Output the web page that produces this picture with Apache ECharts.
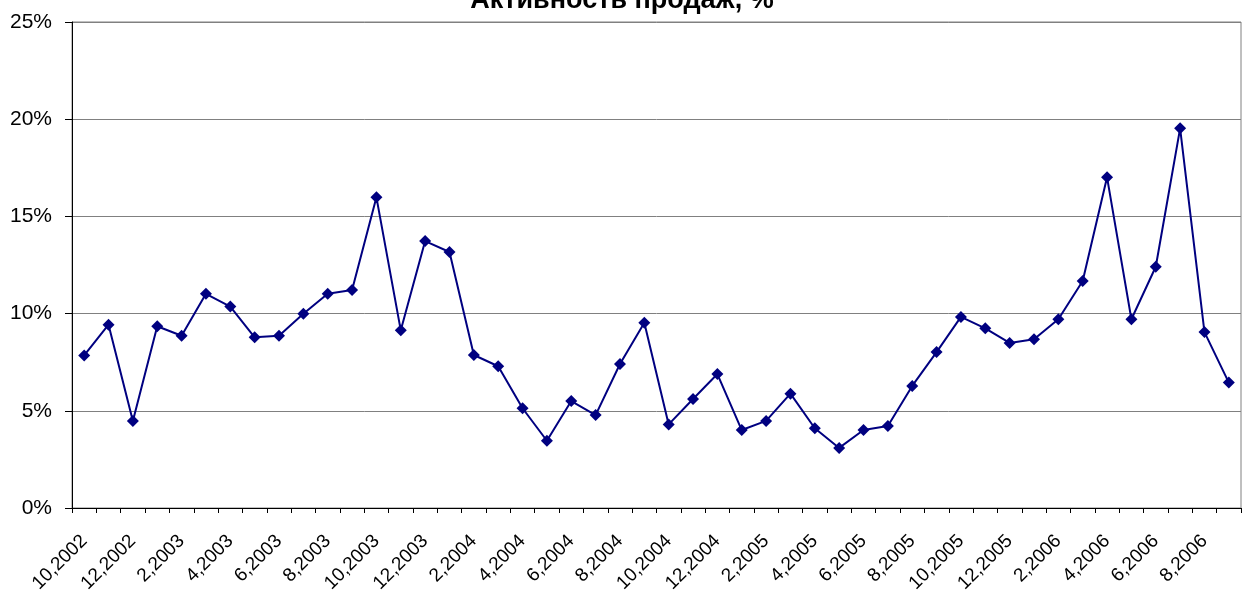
<!DOCTYPE html>
<html>
<head>
<meta charset="utf-8">
<script src="https://cdn.jsdelivr.net/npm/echarts@6/dist/echarts.min.js"></script>
<style>
html,body{margin:0;padding:0;background:#fff;}
#chart{width:1244px;height:590px;}
</style>
</head>
<body>
<div id="chart"></div>
<script>
const titleText = 'Активность продаж, %';
const categories = [
  '10,2002','11,2002','12,2002',
  '1,2003','2,2003','3,2003','4,2003','5,2003','6,2003','7,2003','8,2003','9,2003','10,2003','11,2003','12,2003',
  '1,2004','2,2004','3,2004','4,2004','5,2004','6,2004','7,2004','8,2004','9,2004','10,2004','11,2004','12,2004',
  '1,2005','2,2005','3,2005','4,2005','5,2005','6,2005','7,2005','8,2005','9,2005','10,2005','11,2005','12,2005',
  '1,2006','2,2006','3,2006','4,2006','5,2006','6,2006','7,2006','8,2006','9,2006'
];
const salesActivity = [
  7.85, 9.43, 4.48,
  9.35, 8.86, 11.02, 10.36, 8.78, 8.86, 9.99, 11.02, 11.21, 15.98, 9.14, 13.73,
  13.17, 7.87, 7.29, 5.13, 3.46, 5.50, 4.78, 7.41, 9.53, 4.30, 5.61, 6.89,
  4.01, 4.48, 5.88, 4.10, 3.09, 4.01, 4.22, 6.28, 8.02, 9.83, 9.24, 8.49,
  8.68, 9.71, 11.68, 17.01, 9.71, 12.41, 19.53, 9.05, 6.45
];
const yTicks = { min: 0, max: 25, interval: 5 };

const chart = echarts.init(document.getElementById('chart'), null, { renderer: 'canvas' });
const font = 'Arial, "Liberation Sans", sans-serif';
chart.setOption({
  animation: false,
  backgroundColor: '#ffffff',
  title: {
    text: titleText,
    left: 'center',
    top: -13,
    padding: 0,
    textStyle: { fontFamily: font, fontSize: 27, fontWeight: 'bold', color: '#000' }
  },
  grid: {
    left: 72, right: 3, top: 22, bottom: 82,
    containLabel: false,
    outerBoundsMode: 'none',
    show: true,
    borderColor: '#808080',
    borderWidth: 1,
    backgroundColor: 'transparent'
  },
  xAxis: {
    type: 'category',
    data: categories,
    boundaryGap: true,
    axisLine: { show: true, lineStyle: { color: '#000', width: 1 } },
    axisTick: { show: true, interval: 0, length: 5, inside: false, lineStyle: { color: '#000' } },
    axisLabel: {
      interval: 1,
      rotate: 45,
      margin: 30,
      fontFamily: font,
      fontSize: 19,
      color: '#000'
    },
    splitLine: { show: false }
  },
  yAxis: {
    type: 'value',
    min: yTicks.min,
    max: yTicks.max,
    interval: yTicks.interval,
    axisLine: { show: true, lineStyle: { color: '#000', width: 1 } },
    axisTick: { show: true, length: 7, lineStyle: { color: '#000' } },
    axisLabel: {
      formatter: '{value}%',
      margin: 20,
      fontFamily: font,
      fontSize: 21,
      color: '#000'
    },
    splitLine: { show: true, lineStyle: { color: '#808080', width: 1 } }
  },
  series: [{
    type: 'line',
    data: salesActivity,
    symbol: 'diamond',
    symbolSize: 12,
    showAllSymbol: true,
    lineStyle: { color: '#000080', width: 2 },
    itemStyle: { color: '#000080', borderWidth: 0 }
  }]
});
</script>
</body>
</html>
